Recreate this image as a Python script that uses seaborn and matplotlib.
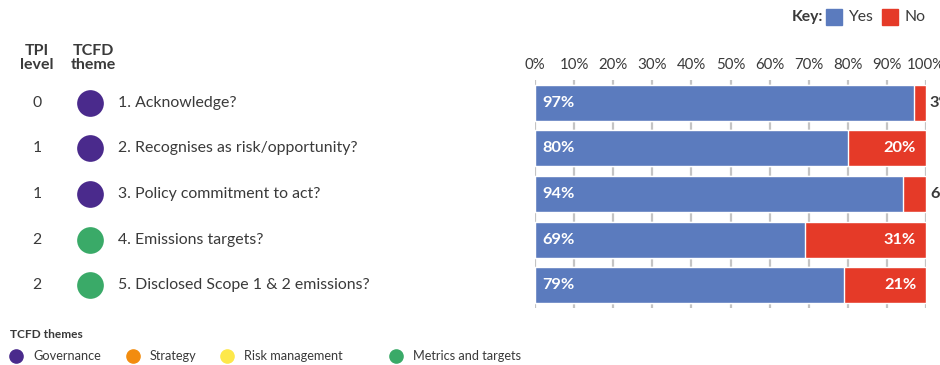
import matplotlib
matplotlib.use("Agg")
import matplotlib.pyplot as plt
import matplotlib.transforms as mtransforms
from matplotlib.patches import Rectangle
import seaborn as sns
import pandas as pd

questions = ["1. Acknowledge?", "2. Recognises as risk/opportunity?",
             "3. Policy commitment to act?", "4. Emissions targets?",
             "5. Disclosed Scope 1 & 2 emissions?"]
tpi_levels = ["0", "1", "1", "2", "2"]
themes = ["Governance", "Governance", "Governance",
          "Metrics and targets", "Metrics and targets"]
yes_pct = [97, 80, 94, 69, 79]
no_pct = [3, 20, 6, 31, 21]
x_ticks = [0, 10, 20, 30, 40, 50, 60, 70, 80, 90, 100]
theme_names = ["Governance", "Strategy", "Risk management", "Metrics and targets"]

theme_colors = {"Governance": "#4a2a8c", "Strategy": "#f28c0f",
                "Risk management": "#fde84a", "Metrics and targets": "#3aaa68"}
BLUE = "#5b7bbe"
RED = "#e53a28"
TXT = "#3a3a3a"

sns.set_theme(style="white")
plt.rcParams["font.family"] = ["Lato", "DejaVu Sans"]

df = pd.DataFrame({"question": questions, "yes": yes_pct, "no": no_pct})
df["total"] = df["yes"] + df["no"]

fig = plt.figure(figsize=(9.4, 3.65), dpi=100)
fig.patch.set_facecolor("white")
ax = fig.add_axes([535 / 940, 1 - 308 / 365, 391 / 940, 228 / 365])

sns.barplot(data=df, x="total", y="question", color=RED, orient="h",
            width=0.79, ax=ax, saturation=1, zorder=2)
sns.barplot(data=df, x="yes", y="question", color=BLUE, orient="h",
            width=0.79, ax=ax, saturation=1, zorder=3)

ax.set_xlim(0, 100)
ax.set_ylim(4.5, -0.5)
ax.set_xticks(x_ticks)
ax.set_xticklabels([f"{t}%" for t in x_ticks])
ax.xaxis.tick_top()
ax.tick_params(axis="x", length=0, pad=6, labelsize=10.8, labelcolor=TXT)
ax.set_yticks([])
ax.set_xlabel("")
ax.set_ylabel("")
for s in ax.spines.values():
    s.set_visible(False)
ax.set_axisbelow(True)
ax.grid(axis="x", color="#c4c4c4", linewidth=1.6, zorder=0)
ax.grid(axis="y", visible=False)

# value labels
for i, (y, n) in enumerate(zip(yes_pct, no_pct)):
    ax.text(1.8, i, f"{y}%", color="white", fontweight="bold", fontsize=11.8,
            va="center", ha="left", zorder=5)
    if n >= 10:
        ax.text(y + n - 2.5, i, f"{n}%", color="white", fontweight="bold",
                fontsize=11.8, va="center", ha="right", zorder=5)
    else:
        ax.text(101, i, f"{n}%", color=TXT, fontweight="bold", fontsize=11.8,
                va="center", ha="left", zorder=5, clip_on=False)

# left columns
trans = mtransforms.blended_transform_factory(fig.transFigure, ax.transData)
for i, (lvl, th, q) in enumerate(zip(tpi_levels, themes, questions)):
    ax.text(37 / 940, i, lvl, transform=trans, ha="center", va="center",
            fontsize=11.3, color=TXT, clip_on=False)
    ax.scatter([90 / 940], [i], s=370, color=theme_colors[th], transform=trans,
               clip_on=False, zorder=5, linewidths=0)
    ax.text(118 / 940, i, q, transform=trans, ha="left", va="center",
            fontsize=11.4, color=TXT, clip_on=False)

fig.text(37 / 940, 1 - 58 / 365, "TPI\nlevel", ha="center", va="center",
         fontsize=11.5, fontweight="bold", color=TXT, linespacing=1.0)
fig.text(93 / 940, 1 - 58 / 365, "TCFD\ntheme", ha="center", va="center",
         fontsize=11.5, fontweight="bold", color=TXT, linespacing=1.0)

# top key
fig.text(823 / 940, 1 - 17 / 365, "Key:", ha="right", va="center",
         fontsize=11.3, fontweight="bold", color=TXT)
fig.patches.append(Rectangle((826 / 940, 1 - 25 / 365), 16 / 940, 16 / 365,
                             transform=fig.transFigure, color=BLUE))
fig.text(848 / 940, 1 - 17 / 365, "Yes", ha="left", va="center",
         fontsize=11.3, color=TXT)
fig.patches.append(Rectangle((882 / 940, 1 - 25 / 365), 16 / 940, 16 / 365,
                             transform=fig.transFigure, color=RED))
fig.text(904 / 940, 1 - 17 / 365, "No", ha="left", va="center",
         fontsize=11.3, color=TXT)

# bottom theme legend
fig.text(10 / 940, 1 - 334 / 365, "TCFD themes", ha="left", va="center",
         fontsize=8.6, fontweight="bold", color=TXT)
leg_x = [16, 133, 227, 396]
for x, name in zip(leg_x, theme_names):
    fig.add_artist(plt.Line2D([x / 940], [1 - 356 / 365], marker="o",
                              markersize=9.5, color=theme_colors[name],
                              linestyle="none", transform=fig.transFigure))
    fig.text((x + 17) / 940, 1 - 356 / 365, name, ha="left", va="center",
             fontsize=9.2, color=TXT)

fig.savefig("out.png", dpi=100, facecolor="white")
